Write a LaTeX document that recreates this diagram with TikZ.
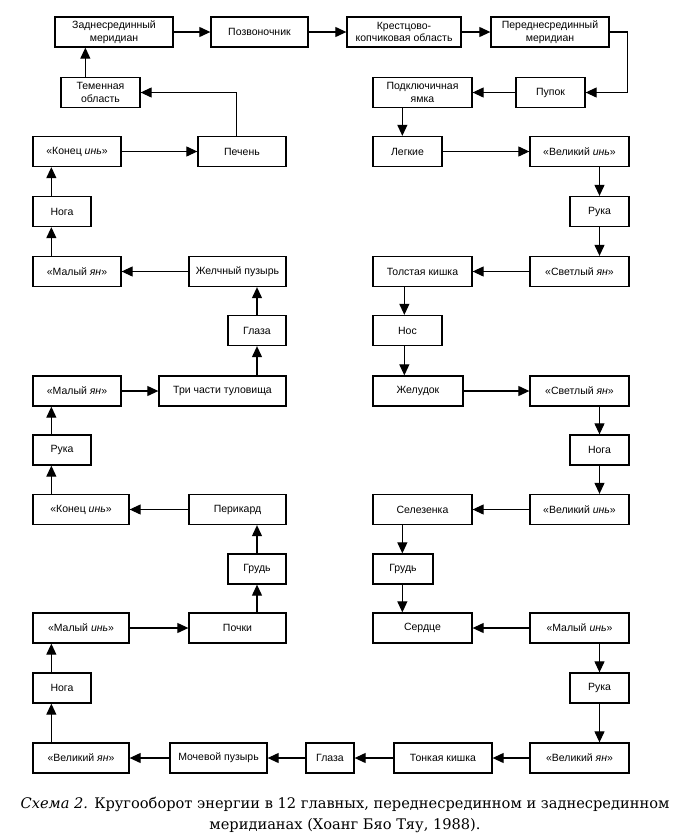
\documentclass[tikz,border=0pt]{standalone}
\usepackage{fontspec}
\setmainfont{Liberation Sans}
\newfontfamily\capfont{DejaVu Serif}
\usetikzlibrary{arrows.meta}
\begin{document}
\begin{tikzpicture}[>={Triangle[length=11pt,width=10pt]},x=1pt,y=-1pt,
	box/.style={draw,line width=1.3pt,minimum height=30,inner sep=0pt,align=center,
		font=\fontsize{10.5}{12.5}\selectfont},
	link/.style={->,line width=1.1pt}]
	\useasboundingbox (0,0) rectangle (680,836);
	% top row
	\node[box,minimum width=118] (zad) at (114,32) {Заднесрединный\\меридиан};
	\node[box,minimum width=97] (pozv) at (259.5,32) {Позвоночник};
	\node[box,minimum width=114] (krest) at (404,32) {Крестцово-\\копчиковая область};
	\node[box,minimum width=118] (pered) at (550,32) {Переднесрединный\\меридиан};
	\node[box,minimum width=79] (temen) at (100.5,92.5) {Теменная\\область};
	\node[box,minimum width=99] (podkl) at (422.5,92.5) {Подключичная\\ямка};
	\node[box,minimum width=69] (pupok) at (550.5,92.5) {Пупок};
	% left side
	\node[box,minimum width=88] (konec1) at (77,151.5) {«Конец \textit{инь}»};
	\node[box,minimum width=88] (pechen) at (242,151.5) {Печень};
	\node[box,minimum width=58] (noga1) at (62,211.5) {Нога};
	\node[box,minimum width=88] (malyan1) at (77,271.5) {«Малый \textit{ян}»};
	\node[box,minimum width=97] (zhelch) at (237.5,271.5) {Желчный пузырь};
	\node[box,minimum width=58] (glaza1) at (257,330.5) {Глаза};
	\node[box,minimum width=88] (malyan2) at (77,391) {«Малый \textit{ян}»};
	\node[box,minimum width=127] (tri) at (222.5,391) {Три части туловища};
	\node[box,minimum width=58] (ruka2) at (62,450) {Рука};
	\node[box,minimum width=96] (konec2) at (81,509.5) {«Конец \textit{инь}»};
	\node[box,minimum width=97] (perik) at (237.5,509.5) {Перикард};
	\node[box,minimum width=58] (grud1) at (257,569) {Грудь};
	\node[box,minimum width=96] (malin1) at (81,628) {«Малый \textit{инь}»};
	\node[box,minimum width=97] (pochki) at (237.5,628) {Почки};
	\node[box,minimum width=58] (noga3) at (62,688) {Нога};
	% right side
	\node[box,minimum width=69] (legk) at (407.5,151.5) {Легкие};
	\node[box,minimum width=99] (velin1) at (579.5,151.5) {«Великий \textit{инь}»};
	\node[box,minimum width=59] (ruka1) at (599.5,211.5) {Рука};
	\node[box,minimum width=99] (tolst) at (422.5,271.5) {Толстая кишка};
	\node[box,minimum width=99] (svetl1) at (579.5,271.5) {«Светлый \textit{ян}»};
	\node[box,minimum width=69] (nos) at (407.5,330.5) {Нос};
	\node[box,minimum width=90] (zhel) at (418,391) {Желудок};
	\node[box,minimum width=99] (svetl2) at (579.5,391) {«Светлый \textit{ян}»};
	\node[box,minimum width=59] (noga2) at (599.5,450) {Нога};
	\node[box,minimum width=99] (selez) at (422.5,509.5) {Селезенка};
	\node[box,minimum width=99] (velin2) at (579.5,509.5) {«Великий \textit{инь}»};
	\node[box,minimum width=60] (grud2) at (403,569) {Грудь};
	\node[box,minimum width=99] (serdce) at (422.5,628) {Сердце};
	\node[box,minimum width=99] (malin2) at (579.5,628) {«Малый \textit{инь}»};
	\node[box,minimum width=59] (ruka3) at (599.5,688) {Рука};
	% bottom row
	\node[box,minimum width=96] (velyan1) at (81,758) {«Великий \textit{ян}»};
	\node[box,minimum width=97] (moch) at (218.5,758) {Мочевой пузырь};
	\node[box,minimum width=48] (glaza2) at (330,758) {Глаза};
	\node[box,minimum width=98] (tonk) at (443,758) {Тонкая кишка};
	\node[box,minimum width=99] (velyan2) at (579.5,758) {«Великий \textit{ян}»};
	\node[font=\capfont\fontsize{14.6}{21}\selectfont,align=center] (caption) at (345,815)
		{\textit{Схема 2.} Кругооборот энергии в 12 главных, переднесрединном и заднесрединном\\
		меридианах (Хоанг Бяо Тяу, 1988).};
	% connectors
	\draw[link] (zad) -- (pozv);
	\draw[link] (pozv) -- (krest);
	\draw[link] (krest) -- (pered);
	\draw[link] (pered.east) -- ++(18,0) |- (pupok.east);
	\draw[link] (pupok) -- (podkl);
	\draw[link] ([xshift=30]podkl.south west) -- ([xshift=30]legk.north west);
	\draw[link] (legk) -- (velin1);
	\draw[link] (ruka1 |- velin1.south) -- (ruka1.north);
	\draw[link] (ruka1.south) -- (ruka1 |- svetl1.north);
	\draw[link] (svetl1) -- (tolst);
	\draw[link] ([xshift=32]tolst.south west) -- ([xshift=32]nos.north west);
	\draw[link] ([xshift=32]nos.south west) -- ([xshift=32]zhel.north west);
	\draw[link] (zhel) -- (svetl2);
	\draw[link] (noga2 |- svetl2.south) -- (noga2.north);
	\draw[link] (noga2.south) -- (noga2 |- velin2.north);
	\draw[link] (velin2) -- (selez);
	\draw[link] ([xshift=30]selez.south west) -- ([xshift=30]grud2.north west);
	\draw[link] ([xshift=30]grud2.south west) -- ([xshift=30]serdce.north west);
	\draw[link] (malin2) -- (serdce);
	\draw[link] (ruka3 |- malin2.south) -- (ruka3.north);
	\draw[link] (ruka3.south) -- (ruka3 |- velyan2.north);
	\draw[link] (velyan2) -- (tonk);
	\draw[link] (tonk) -- (glaza2);
	\draw[link] (glaza2) -- (moch);
	\draw[link] (moch) -- (velyan1);
	\draw[link] ([xshift=19]velyan1.north west) -- ([xshift=19]noga3.south west);
	\draw[link] ([xshift=19]noga3.north west) -- ([xshift=19]malin1.south west);
	\draw[link] (malin1) -- (pochki);
	\draw[link] (grud1 |- pochki.north) -- (grud1.south);
	\draw[link] (grud1.north) -- (grud1 |- perik.south);
	\draw[link] (perik) -- (konec2);
	\draw[link] ([xshift=19]konec2.north west) -- ([xshift=19]ruka2.south west);
	\draw[link] ([xshift=19]ruka2.north west) -- ([xshift=19]malyan2.south west);
	\draw[link] (malyan2) -- (tri);
	\draw[link] (glaza1 |- tri.north) -- (glaza1.south);
	\draw[link] (glaza1.north) -- (glaza1 |- zhelch.south);
	\draw[link] (zhelch) -- (malyan1);
	\draw[link] ([xshift=19]malyan1.north west) -- ([xshift=19]noga1.south west);
	\draw[link] ([xshift=19]noga1.north west) -- ([xshift=19]konec1.south west);
	\draw[link] (konec1) -- (pechen);
	\draw[link] ([xshift=39]pechen.north west) |- (temen.east);
	\draw[link] ([xshift=25]temen.north west) -- ([xshift=31]zad.south west);
\end{tikzpicture}
\end{document}
